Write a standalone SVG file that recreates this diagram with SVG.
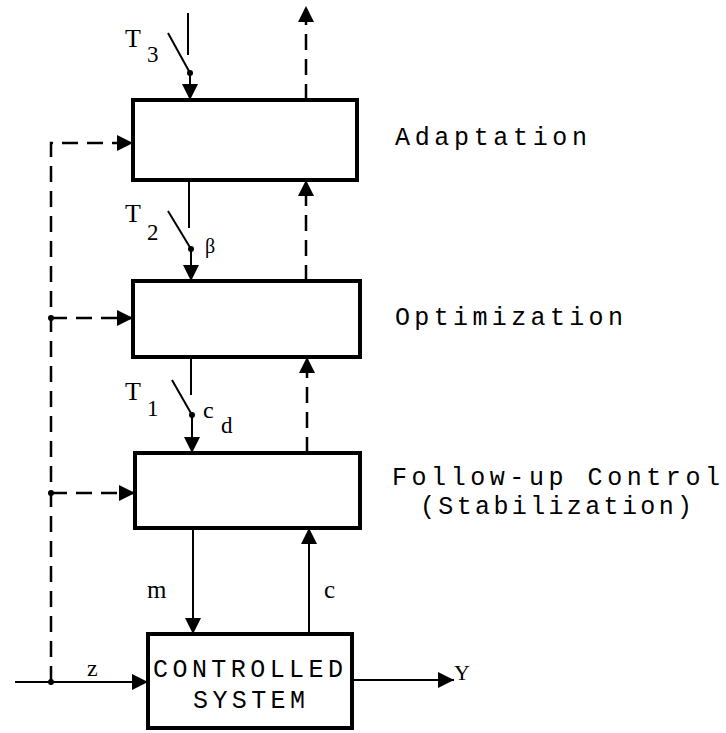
<svg xmlns="http://www.w3.org/2000/svg" width="726" height="733" viewBox="0 0 726 733">
<defs>
<marker id="ah" markerUnits="userSpaceOnUse" markerWidth="18" markerHeight="16" refX="16" refY="8" orient="auto">
<path d="M0,0 L16,8 L0,16 Z" fill="#000" stroke="none"/>
</marker>
<style>
.box{fill:#fff;stroke:#000;stroke-width:4}
.ln{fill:none;stroke:#000;stroke-width:2}
.dash{fill:none;stroke:#000;stroke-width:2.5;stroke-dasharray:16 9}
.arr{marker-end:url(#ah)}
.dot{fill:#000}
.lbl{font-family:"Liberation Mono","DejaVu Sans Mono",monospace;font-size:25px;fill:#000}
.sym{font-family:"Liberation Serif","DejaVu Serif",serif;fill:#000}
</style>
</defs>
<rect width="726" height="733" fill="#fff"/>
<g id="connectors">
<path class="dash arr" d="M306,100 V6"/>
<path class="dash arr" d="M51,682 V143 H133"/>
<path class="dash arr" d="M51,318 H133"/>
<path class="dash arr" d="M51,493 H135"/>
<circle class="dot" cx="51" cy="318" r="3"/>
<circle class="dot" cx="51" cy="493" r="3"/>
<path class="dash arr" d="M306,281 V180"/>
<path class="dash arr" d="M307,453 V357"/>
<path class="ln" d="M188,13 V55"/>
<path class="ln" d="M168,33 L190,73"/>
<circle class="dot" cx="190" cy="73" r="3"/>
<path class="ln arr" d="M190,73 V100"/>
<path class="ln" d="M189,180 V228"/>
<path class="ln" d="M168,211 L191,249"/>
<circle class="dot" cx="191" cy="249" r="3"/>
<path class="ln arr" d="M191,249 V281"/>
<path class="ln" d="M191,357 V395"/>
<path class="ln" d="M172,380 L192,415"/>
<circle class="dot" cx="192" cy="415" r="3"/>
<path class="ln arr" d="M192,415 V453"/>
<path class="ln arr" d="M193,528 V634"/>
<path class="ln arr" d="M309,634 V528"/>
<path class="ln arr" d="M15,682 H148"/>
<circle class="dot" cx="51" cy="682" r="3"/>
<path class="ln arr" d="M352,680 H454"/>
</g>
<g id="adaptation">
<rect class="box" x="133" y="100" width="224" height="80"/>
<text class="lbl" x="395" y="145" textLength="192" lengthAdjust="spacing">Adaptation</text>
</g>
<g id="optimization">
<rect class="box" x="133" y="281" width="227" height="76"/>
<text class="lbl" x="395" y="325" textLength="228" lengthAdjust="spacing">Optimization</text>
</g>
<g id="followup">
<rect class="box" x="135" y="453" width="225" height="75"/>
<text class="lbl" x="392" y="485" font-size="21" textLength="328" lengthAdjust="spacing">Follow-up Control</text>
<text class="lbl" x="420" y="514" font-size="21" textLength="272" lengthAdjust="spacing">(Stabilization)</text>
</g>
<g id="controlled">
<rect class="box" x="148" y="634" width="204" height="94"/>
<text class="lbl" x="153" y="677" font-size="25" textLength="190" lengthAdjust="spacing">CONTROLLED</text>
<text class="lbl" x="193" y="708" font-size="25" textLength="112" lengthAdjust="spacing">SYSTEM</text>
</g>
<g id="labels">
<text class="sym" x="125" y="47" font-size="26">T</text>
<text class="sym" x="147" y="62" font-size="23">3</text>
<text class="sym" x="125" y="222" font-size="26">T</text>
<text class="sym" x="147" y="240" font-size="23">2</text>
<text class="sym" x="205" y="253" font-size="20">β</text>
<text class="sym" x="125" y="400" font-size="26">T</text>
<text class="sym" x="147" y="416" font-size="23">1</text>
<text class="sym" x="203" y="418" font-size="24">c</text>
<text class="sym" x="221" y="433" font-size="23">d</text>
<text class="sym" x="147" y="598" font-size="25">m</text>
<text class="sym" x="324" y="598" font-size="25">c</text>
<text class="sym" x="87" y="676" font-size="24">z</text>
<text class="sym" x="454" y="680" font-size="22">Y</text>
</g>
</svg>
